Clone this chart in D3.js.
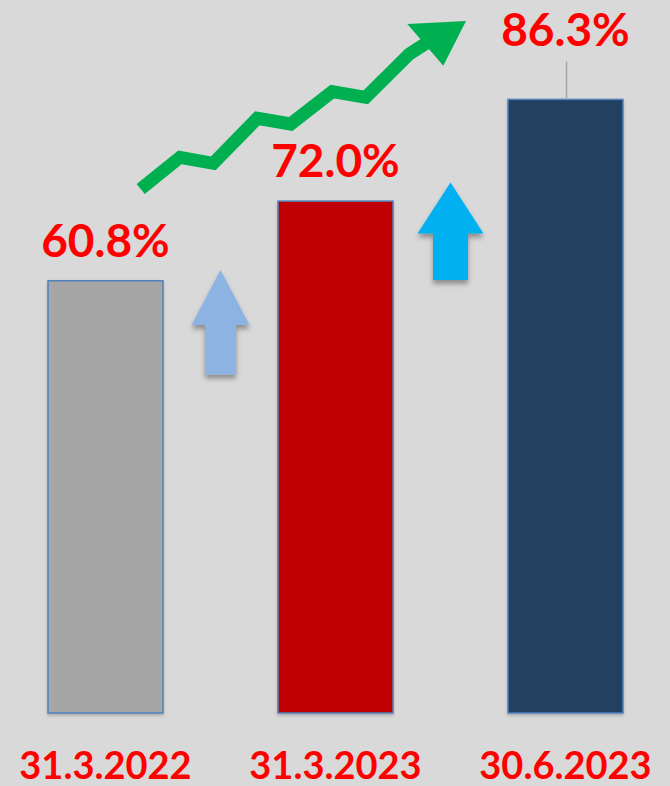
<!DOCTYPE html>
<html>
<head>
<meta charset="utf-8">
<script src="https://cdn.jsdelivr.net/npm/d3@7.9.0/dist/d3.min.js"></script>
<style>
  html, body { margin: 0; padding: 0; background: #d9d9d9; }
  svg { display: block; }
  text { font-family: Lato, "Open Sans", sans-serif; font-weight: bold; }
</style>
</head>
<body>
<svg id="chart" width="670" height="786"></svg>
<script>
// data
const dates = ['31.3.2022', '31.3.2023', '30.6.2023'];
const values = [60.8, 72.0, 86.3];
const barColors = ['#a6a6a6', '#c00000', '#243f60'];
const valueLabels = ['60.8%', '72.0%', '86.3%'];

const svg = d3.select('#chart');

const x = d3.scaleBand()
    .domain(dates)
    .range([-9.5, 680.5])
    .paddingInner(0.5)
    .paddingOuter(0.25);

const y = d3.scaleLinear()
    .domain([0, 100])
    .range([713, 2]);

// soft shadow under shapes
const defs = svg.append('defs');
const shadow = defs.append('filter').attr('id', 'shadow')
    .attr('x', '-20%').attr('y', '-20%').attr('width', '140%').attr('height', '140%');
shadow.append('feDropShadow')
    .attr('dx', 0).attr('dy', 4).attr('stdDeviation', 2.5)
    .attr('flood-color', '#000').attr('flood-opacity', 0.35);

const barShadow = defs.append('filter').attr('id', 'barShadow')
    .attr('x', '-10%').attr('y', '-10%').attr('width', '120%').attr('height', '120%');
barShadow.append('feDropShadow')
    .attr('dx', 0).attr('dy', 2).attr('stdDeviation', 1.5)
    .attr('flood-color', '#000').attr('flood-opacity', 0.2);

// bars
svg.selectAll('rect.bar')
    .data(values)
    .join('rect')
    .attr('class', 'bar')
    .attr('x', (d, i) => x(dates[i]))
    .attr('y', d => y(d))
    .attr('width', x.bandwidth())
    .attr('height', d => y(0) - y(d))
    .attr('fill', (d, i) => barColors[i])
    .attr('stroke', '#4f81bd')
    .attr('stroke-width', 1.5)
    .attr('filter', 'url(#barShadow)');

// value labels (last one lifted with a leader line)
const labelLift = [0, 0, 29];
svg.selectAll('line.leader')
    .data([2])
    .join('line')
    .attr('class', 'leader')
    .attr('x1', i => x(dates[i]) + x.bandwidth() / 2 + 1)
    .attr('x2', i => x(dates[i]) + x.bandwidth() / 2 + 1)
    .attr('y1', i => y(values[i]) - 38)
    .attr('y2', i => y(values[i]))
    .attr('stroke', '#a6a6a6')
    .attr('stroke-width', 1.5);

svg.selectAll('text.value')
    .data(values)
    .join('text')
    .attr('class', 'value')
    .attr('x', (d, i) => x(dates[i]) + x.bandwidth() / 2)
    .attr('y', (d, i) => y(d) - 24 - labelLift[i])
    .attr('text-anchor', 'middle')
    .attr('font-size', 46)
    .attr('fill', '#ff0000')
    .text((d, i) => valueLabels[i]);

// date labels
svg.selectAll('text.date')
    .data(dates)
    .join('text')
    .attr('class', 'date')
    .attr('x', d => x(d) + x.bandwidth() / 2)
    .attr('y', 779)
    .attr('text-anchor', 'middle')
    .attr('font-size', 38)
    .attr('fill', '#ff0000')
    .text(d => d);

// block up arrows between bars
const upArrows = [
    { gap: 0, tip: 62.3, bottom: 47.6, color: '#8db3e2', head: 58, shaft: 31, headLen: 55 },
    { gap: 1, tip: 74.6, bottom: 60.9, color: '#00b0f0', head: 66, shaft: 35, headLen: 51 }
];
function arrowPath(a) {
    const cx = (x(dates[a.gap]) + x.bandwidth() + x(dates[a.gap + 1])) / 2;
    const t = y(a.tip), b = y(a.bottom), hb = t + a.headLen;
    return d3.line()([
        [cx, t], [cx + a.head / 2, hb], [cx + a.shaft / 2, hb], [cx + a.shaft / 2, b],
        [cx - a.shaft / 2, b], [cx - a.shaft / 2, hb], [cx - a.head / 2, hb]
    ]) + 'Z';
}
svg.selectAll('path.up')
    .data(upArrows)
    .join('path')
    .attr('class', 'up')
    .attr('d', arrowPath)
    .attr('fill', d => d.color)
    .attr('filter', 'url(#shadow)');

// green zigzag trend arrow
const trend = [[140.7, 189], [180, 157.3], [213.3, 163.3], [257.3, 118.3], [290.7, 124],
    [332.3, 91.7], [365.7, 97.3], [409.3, 54], [428, 42]];
svg.append('path')
    .attr('d', d3.line()(trend))
    .attr('fill', 'none')
    .attr('stroke', '#00b050')
    .attr('stroke-width', 13)
    .attr('stroke-linejoin', 'miter');
svg.append('path')
    .attr('d', d3.line()([[407.3, 24], [466, 21], [443.3, 65.7]]) + 'Z')
    .attr('fill', '#00b050');
</script>
</body>
</html>
